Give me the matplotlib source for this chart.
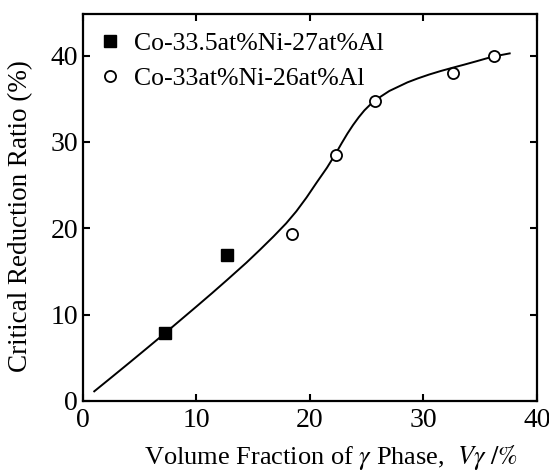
import matplotlib
matplotlib.use('Agg')
import matplotlib.pyplot as plt

plt.rcParams['font.family'] = 'Liberation Serif'
plt.rcParams['mathtext.fontset'] = 'stix'

# measured data
sq_x = [7.2, 12.7]
sq_y = [7.9, 16.9]
circ_x = [18.4, 22.3, 25.7, 32.6, 36.2]
circ_y = [19.3, 28.5, 34.7, 38.0, 40.0]

# trend curve
curve_x = [1.0, 2.5, 4.1, 5.6, 7.2, 8.6, 10.0, 11.4, 12.7, 14.4, 15.6, 16.8,
           17.9, 18.8, 19.7, 20.6, 21.5, 22.3, 22.8, 23.3, 23.8, 24.3, 24.8,
           25.3, 25.7, 26.3, 27.0, 27.8, 28.6, 29.5, 30.5, 31.5, 32.6, 33.6,
           34.7, 35.5, 36.2, 37.6]
curve_y = [1.1, 2.7, 4.42, 6.05, 7.8, 9.36, 10.92, 12.5, 14.0, 16.0, 17.5, 19.05,
           20.55, 21.95, 23.55, 25.3, 27.0, 28.7, 29.85, 30.95, 31.95, 32.85, 33.65,
           34.3, 34.75, 35.3, 35.9, 36.4, 36.9, 37.35, 37.8, 38.2, 38.6, 38.95,
           39.35, 39.65, 39.9, 40.25]

fig = plt.figure(figsize=(5.49, 4.71), dpi=100)
ax = fig.add_axes([0.151, 0.149, 0.827, 0.821])

ax.plot(curve_x, curve_y, color='black', lw=1.4, zorder=1)
ax.plot(sq_x, sq_y, 's', color='black', ms=9, ls='none', zorder=3,
        label='Co-33.5at%Ni-27at%Al')
ax.plot(circ_x, circ_y, 'o', mfc='white', mec='black', mew=1.3, ms=8, ls='none',
        zorder=3, label='Co-33at%Ni-26at%Al')

ax.set_xlim(0, 40)
ax.set_ylim(0, 44.8)
ax.set_xticks([0, 10, 20, 30, 40])
ax.set_yticks([0, 10, 20, 30, 40])
ax.tick_params(direction='in', length=5, width=1.5, top=True, right=True, labelsize=20)
ax.tick_params(axis='x', pad=5.5)
ax.tick_params(axis='y', pad=3.5)
for s in ax.spines.values():
    s.set_linewidth(1.6)

ax.set_xlabel(r'Volume Fraction of $\gamma$ Phase,  $V\gamma\ /\mathit{\%}$', fontsize=19)
ax.set_ylabel('Critical Reduction Ratio (%)', fontsize=19.5)
ax.xaxis.set_label_coords(0.546, -0.108)
ax.yaxis.set_label_coords(-0.11, 0.477)

ax.legend(loc='upper left', frameon=False, fontsize=18.5, handlelength=0.7,
          handletextpad=0.6, borderaxespad=0.3, labelspacing=0.45, borderpad=0.4)

fig.savefig('out.png', dpi=100)
